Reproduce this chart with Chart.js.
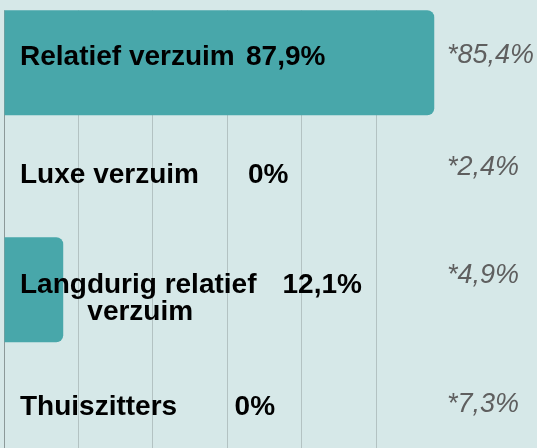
<!DOCTYPE html>
<html>
<head>
<meta charset="utf-8">
<script src="https://cdn.jsdelivr.net/npm/chart.js@4"></script>
<style>
  html, body { margin: 0; padding: 0; background: #d6e8e8; overflow: hidden; }
  #wrap { width: 537px; height: 460px; }
</style>
</head>
<body>
<div id="wrap"><canvas id="verzuimChart" width="537" height="460"></canvas></div>
<script>
const categories = ['Relatief verzuim', 'Luxe verzuim', ['Langdurig relatief', 'verzuim'], 'Thuiszitters'];
const values = [87.9, 0, 12.1, 0];
const benchmark = [85.4, 2.4, 4.9, 7.3];

function pct(v) {
  return String(v).replace('.', ',') + '%';
}

const nameX = 20;
const valueX = [246, 248, 282.5, 234.6];
const nameDy = [2.25, 6.75, 3.25, 11.75];
const benchX = 447;
const benchDy = [0.25, -1.25, -6.75, 8.75];

// rasterlijnen beginnen pas onder de bovenkant van de eerste balk
const topStrip = {
  id: 'topStrip',
  beforeDatasetsDraw(chart) {
    const bar = chart.getDatasetMeta(0).data[0];
    if (!bar) return;
    const area = chart.chartArea;
    const c = chart.ctx;
    c.save();
    c.fillStyle = '#d6e8e8';
    c.fillRect(0, 0, area.right + 1, bar.y - bar.height / 2);
    c.restore();
  }
};

const labelPlugin = {
  id: 'labels',
  afterDatasetsDraw(chart) {
    const ctx = chart.ctx;
    const yScale = chart.scales.y;
    ctx.save();
    ctx.textBaseline = 'alphabetic';
    categories.forEach((cat, i) => {
      const cy = yScale.getPixelForValue(i);
      const base = cy + nameDy[i];
      ctx.font = 'bold 28px "Liberation Sans", Arial, sans-serif';
      ctx.fillStyle = '#000';
      if (Array.isArray(cat)) {
        ctx.textAlign = 'left';
        ctx.fillText(cat[0], nameX, base);
        const mid = nameX + ctx.measureText(cat[0]).width / 2 + 2;
        ctx.textAlign = 'center';
        ctx.fillText(cat[1], mid, base + 27);
      } else {
        ctx.textAlign = 'left';
        ctx.fillText(cat, nameX, base);
      }
      ctx.textAlign = 'left';
      ctx.fillText(pct(values[i]), valueX[i], base);

      ctx.font = 'italic 27px "Liberation Sans", Arial, sans-serif';
      ctx.fillStyle = '#5f5f5f';
      ctx.fillText('*' + pct(benchmark[i]), benchX, cy + benchDy[i]);
    });
    ctx.restore();
  }
};

const ctx = document.getElementById('verzuimChart').getContext('2d');
new Chart(ctx, {
  type: 'bar',
  data: {
    labels: categories,
    datasets: [{
      data: values,
      backgroundColor: '#48a7aa',
      borderWidth: 0,
      borderRadius: 7,
      borderSkipped: 'start',
      barPercentage: 0.925,
      categoryPercentage: 1,
      clip: false
    }]
  },
  options: {
    indexAxis: 'y',
    responsive: false,
    animation: false,
    events: [],
    layout: { padding: { left: 4, right: 161, top: 6, bottom: 0 } },
    scales: {
      x: {
        min: 0,
        max: 76,
        ticks: { display: false, stepSize: 15.2 },
        grid: {
          drawTicks: false,
          color: function(context) {
            return context.tick && context.tick.value === 0 ? '#8c9999' : '#b3c2c2';
          }
        },
        border: { display: false }
      },
      y: { display: false }
    },
    plugins: {
      legend: { display: false },
      tooltip: { enabled: false }
    }
  },
  plugins: [topStrip, labelPlugin]
});
</script>
</body>
</html>
